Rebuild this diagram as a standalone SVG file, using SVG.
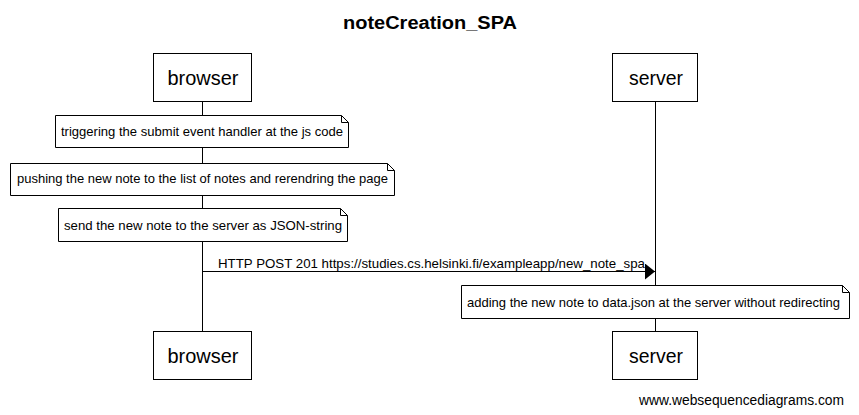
<svg xmlns="http://www.w3.org/2000/svg" width="859" height="415" viewBox="0 0 859 415">
<style>
text{font-family:"Liberation Sans",Arial,sans-serif;fill:#000}
.box{fill:#fff;stroke:#000;stroke-width:1}
.note{fill:#fff;stroke:#000;stroke-width:1}
.fold{fill:none;stroke:#000;stroke-width:1}
.life{stroke:#000;stroke-width:1}
.actor{font-size:20px;text-anchor:middle}
.nt{font-size:13px}
</style>
<defs>
<marker id="ah" markerWidth="10" markerHeight="16" refX="10" refY="8" orient="auto" markerUnits="userSpaceOnUse">
<path d="M0,0 L10,8 L0,16 Z" fill="#000"/>
</marker>
</defs>
<rect width="859" height="415" fill="#fff"/>
<text x="343" y="29" font-size="18" font-weight="bold" textLength="174" lengthAdjust="spacingAndGlyphs">noteCreation_SPA</text>
<g id="lifelines">
<line class="life" x1="202.5" y1="101" x2="202.5" y2="331"/>
<line class="life" x1="655.5" y1="101" x2="655.5" y2="331"/>
</g>
<g id="browser-top"><rect class="box" x="153.5" y="53.5" width="98" height="48"/><text class="actor" x="203" y="85" textLength="71" lengthAdjust="spacingAndGlyphs">browser</text></g>
<g id="server-top"><rect class="box" x="612.5" y="53.5" width="85" height="48"/><text class="actor" x="656" y="85" textLength="54" lengthAdjust="spacingAndGlyphs">server</text></g>
<g id="browser-bottom"><rect class="box" x="153.5" y="331.5" width="98" height="48"/><text class="actor" x="203" y="363" textLength="71" lengthAdjust="spacingAndGlyphs">browser</text></g>
<g id="server-bottom"><rect class="box" x="612.5" y="331.5" width="85" height="48"/><text class="actor" x="656" y="363" textLength="54" lengthAdjust="spacingAndGlyphs">server</text></g>
<g id="note1"><path class="note" d="M55.5,115.5 H341.5 L348.5,122.5 V147.5 H55.5 Z"/><path class="fold" d="M341.5,115.5 V122.5 H348.5"/><text class="nt" x="61" y="136" textLength="282" lengthAdjust="spacingAndGlyphs">triggering the submit event handler at the js code</text></g>
<g id="note2"><path class="note" d="M10.5,163.5 H387.5 L394.5,170.5 V195.5 H10.5 Z"/><path class="fold" d="M387.5,163.5 V170.5 H394.5"/><text class="nt" x="17" y="183" textLength="371" lengthAdjust="spacingAndGlyphs">pushing the new note to the list of notes and rerendring the page</text></g>
<g id="note3"><path class="note" d="M58.5,208.5 H340.5 L347.5,215.5 V241.5 H58.5 Z"/><path class="fold" d="M340.5,208.5 V215.5 H347.5"/><text class="nt" x="64" y="230" textLength="278" lengthAdjust="spacingAndGlyphs">send the new note to the server as JSON-string</text></g>
<g id="connectors">
<line x1="202.5" y1="271.5" x2="655" y2="271.5" stroke="#000" stroke-width="1" marker-end="url(#ah)"/>
<text class="nt" x="218" y="268" textLength="427" lengthAdjust="spacingAndGlyphs">HTTP POST 201 https://studies.cs.helsinki.fi/exampleapp/new_note_spa</text>
</g>
<g id="note4"><path class="note" d="M461.5,285.5 H842.5 L849.5,292.5 V318.5 H461.5 Z"/><path class="fold" d="M842.5,285.5 V292.5 H849.5"/><text class="nt" x="467" y="307" textLength="373" lengthAdjust="spacingAndGlyphs">adding the new note to data.json at the server without redirecting</text></g>
<text x="639" y="405" font-size="14" textLength="205" lengthAdjust="spacingAndGlyphs">www.websequencediagrams.com</text>
</svg>
